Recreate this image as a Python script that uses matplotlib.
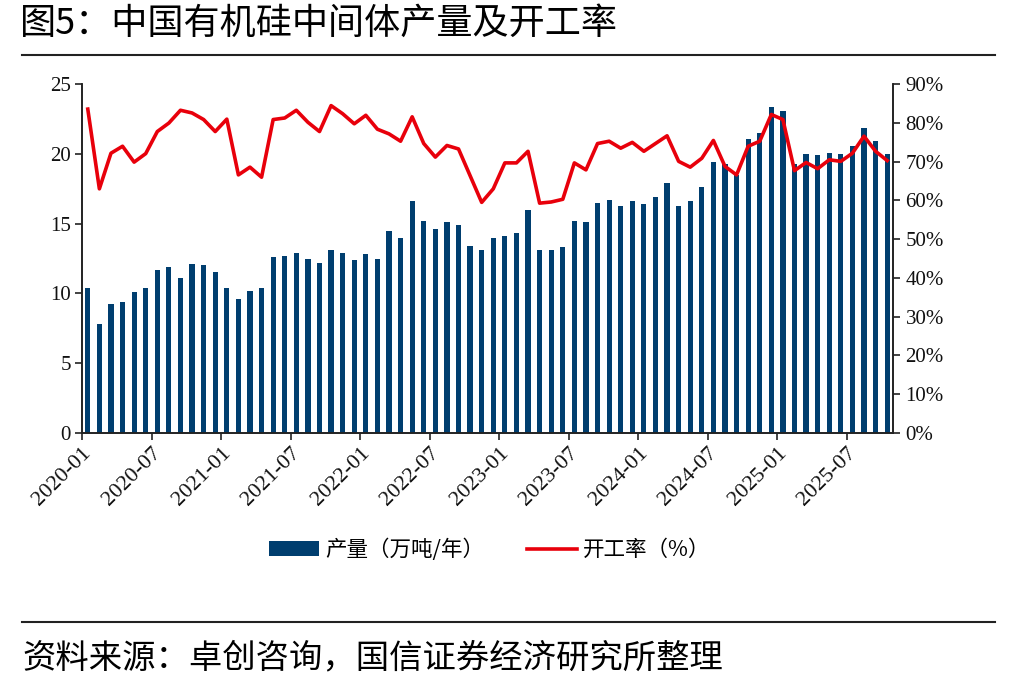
import matplotlib
matplotlib.use('Agg')
import matplotlib.pyplot as plt
from matplotlib.lines import Line2D
from matplotlib.ticker import FuncFormatter
import numpy as np

plt.rcParams['font.family'] = ['Noto Sans CJK SC', 'DejaVu Sans']

# monthly, 2020-01 .. 2025-10
months = [f"{y}-{m:02d}" for y in range(2020, 2026) for m in range(1, 13)][:70]

output = [10.4, 7.8, 9.2, 9.4, 10.1, 10.4, 11.7, 11.9, 11.1, 12.1, 12.0, 11.5,
          10.4, 9.6, 10.2, 10.4, 12.6, 12.7, 12.9, 12.5, 12.2, 13.1, 12.9, 12.4,
          12.8, 12.5, 14.5, 14.0, 16.6, 15.2, 14.6, 15.1, 14.9, 13.4, 13.1, 14.0,
          14.1, 14.3, 16.0, 13.1, 13.1, 13.3, 15.2, 15.1, 16.5, 16.7, 16.3, 16.6,
          16.4, 16.9, 17.9, 16.3, 16.6, 17.6, 19.4, 19.3, 18.5, 21.1, 21.5, 23.4,
          23.1, 19.3, 20.0, 19.9, 20.1, 20.0, 20.6, 21.9, 20.9, 20.0]

rate = [83.6, 63.0, 72.2, 74.0, 69.9, 72.1, 77.8, 80.0, 83.3, 82.6, 80.9, 77.8,
        81.0, 66.6, 68.6, 66.0, 80.9, 81.3, 83.3, 80.2, 77.8, 84.5, 82.4, 79.8,
        82.0, 78.4, 77.2, 75.3, 81.6, 74.7, 71.2, 74.2, 73.3, 66.4, 59.5, 63.0,
        69.7, 69.7, 72.7, 59.3, 59.6, 60.3, 69.7, 67.9, 74.7, 75.3, 73.5, 75.0,
        72.7, 74.7, 76.7, 70.1, 68.6, 70.9, 75.5, 68.8, 66.6, 74.0, 75.3, 82.2,
        80.9, 67.7, 69.8, 68.2, 70.5, 70.1, 72.2, 76.6, 72.7, 70.3]

tick_labels = months[::6]

BAR_C = '#003E6F'
LINE_C = '#E8000B'

fig = plt.figure(figsize=(10.16, 6.9), dpi=100)
ax = fig.add_axes([0.0807, 0.3729, 0.7982, 0.5049])
ax2 = ax.twinx()

x = np.arange(len(months))
bars = ax.bar(x, output, width=0.45, color=BAR_C, label='产量（万吨/年）', zorder=2)
ln, = ax2.plot(x, rate, color=LINE_C, lw=2.6, label='开工率（%）', zorder=3)

ax.set_xlim(-0.5, len(months) - 0.5)
ax.set_ylim(0, 25)
ax.set_yticks(range(0, 26, 5))
ax2.set_ylim(0, 90)
ax2.set_yticks(range(0, 91, 10))
ax2.yaxis.set_major_formatter(FuncFormatter(lambda v, p: f"{v:.0f}%"))

ax.set_xticks(x[::6] - 0.5)
ax.set_xticklabels(tick_labels, rotation=45, ha='right', va='top',
                   rotation_mode='anchor', family='Liberation Serif', fontsize=16)
for lab in ax.get_yticklabels():
    lab.set_family('Liberation Serif')
    lab.set_fontsize(15)
for lab in ax2.get_yticklabels():
    lab.set_family('Liberation Serif')
    lab.set_fontsize(15)

for a in (ax, ax2):
    a.spines['top'].set_visible(False)
    for s in a.spines.values():
        s.set_linewidth(1.2)
        s.set_color('#222222')
ax.tick_params(axis='both', direction='out', length=5, width=1.2, colors='#222222',
               labelcolor='#111111', pad=3)
ax2.tick_params(axis='y', direction='out', length=5, width=1.2, colors='#222222',
                labelcolor='#111111', pad=4)
ax.set_zorder(ax2.get_zorder() - 1)
ax.patch.set_visible(False)

fig.legend(handles=[bars, ln], loc='center', bbox_to_anchor=(0.482, 0.203), ncol=2,
           frameon=False, handlelength=2.3, columnspacing=2.0, handletextpad=0.3,
           prop={'family': ['Noto Sans CJK SC', 'DejaVu Sans'], 'size': 15.5})

fig.text(0.02, 0.966, '图5：中国有机硅中间体产量及开工率', fontsize=26, va='center', ha='left')
fig.text(0.022, 0.047, '资料来源：卓创咨询，国信证券经济研究所整理', fontsize=24,
         va='center', ha='left')

fig.add_artist(Line2D([0.022, 0.979], [0.920, 0.920], color='#222222', lw=1.5))
fig.add_artist(Line2D([0.022, 0.979], [0.099, 0.099], color='#222222', lw=1.5))

fig.savefig('out.png', dpi=100)
